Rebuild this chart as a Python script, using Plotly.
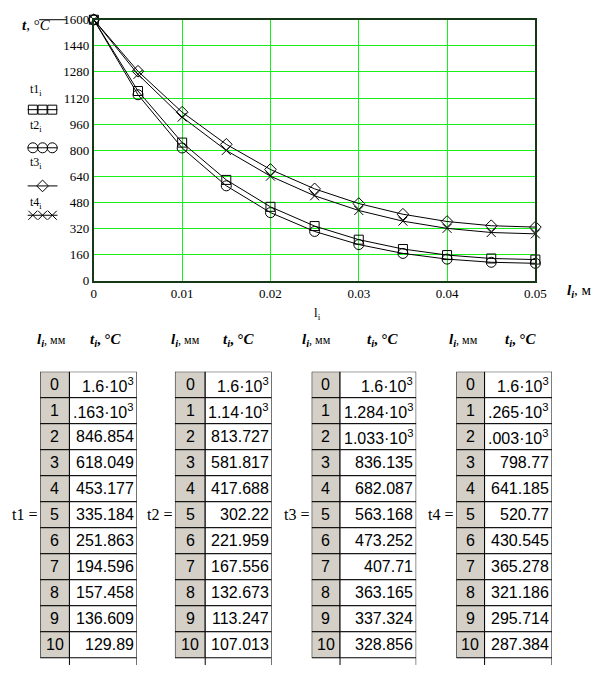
import plotly.graph_objects as go

# ---------------- data ----------------
l = [0, 0.005, 0.01, 0.015, 0.02, 0.025, 0.03, 0.035, 0.04, 0.045, 0.05]
idx = [0, 1, 2, 3, 4, 5, 6, 7, 8, 9, 10]
t1 = [1600, 1163, 846.854, 618.049, 453.177, 335.184, 251.863, 194.596, 157.458, 136.609, 129.89]
t2 = [1600, 1140, 813.727, 581.817, 417.688, 302.22, 221.959, 167.556, 132.673, 113.247, 107.013]
t3 = [1600, 1284, 1033, 836.135, 682.087, 563.168, 473.252, 407.71, 363.165, 337.324, 328.856]
t4 = [1600, 1265, 1003, 798.77, 641.185, 520.77, 430.545, 365.278, 321.186, 295.714, 287.384]
series_names = ["t1", "t2", "t3", "t4"]
x_ticks = [0, 0.01, 0.02, 0.03, 0.04, 0.05]
y_ticks = [0, 160, 320, 480, 640, 800, 960, 1120, 1280, 1440, 1600]

# ---------------- helpers ----------------
W, H = 605, 673
def px(x):
    return x / W
def py(y):
    return 1 - y / H

SERIF = "Liberation Serif"
SANS = "Liberation Sans"
GRID = "#19f019"
BORDER = "#173817"

symbols = ["square-open", "circle-open", "diamond-open", "x-thin-open"]
msizes = [9, 10, 9, 9]

fig = go.Figure()

# main curves
for name, vals, sym, ms in zip(series_names, [t1, t2, t3, t4], symbols, msizes):
    fig.add_trace(go.Scatter(
        x=l, y=vals, mode="lines+markers", name=name,
        line=dict(color="black", width=1),
        marker=dict(symbol=sym, size=ms, color="black",
                    line=dict(color="black", width=1)),
        xaxis="x", yaxis="y", showlegend=False, cliponaxis=False,
    ))

# legend samples (drawn in a small helper axis)
leg_y = [105, 144, 183, 213]
leg_marks = [[0.18, 0.5, 0.82], [0.18, 0.5, 0.82], [0.5], [0.18, 0.5, 0.82]]
for k, (sym, ms) in enumerate(zip(symbols, msizes)):
    yk = py(leg_y[k])
    fig.add_trace(go.Scatter(
        x=[0, 1], y=[yk, yk], mode="lines",
        line=dict(color="black", width=1),
        xaxis="x2", yaxis="y2", showlegend=False, hoverinfo="skip"))
    fig.add_trace(go.Scatter(
        x=leg_marks[k], y=[yk] * len(leg_marks[k]), mode="markers",
        marker=dict(symbol=sym, size=ms, color="black",
                    line=dict(color="black", width=1)),
        xaxis="x2", yaxis="y2", showlegend=False, hoverinfo="skip", cliponaxis=False))

# ---------------- tables (each drawn in its own axis: x = column units, y = row index) ----
def fmt(v, narrow):
    if v >= 1000:
        m = f"{v/1000:.4g}"
        if narrow and len(m) > 4:
            m = m[1:]
        return m + "·10<sup>3</sup>"
    return f"{v:g}"

# (left, divider, right) pixel edges of each table
tab_edges = [(38, 68, 137), (176, 207, 275), (316, 345, 423), (464, 493, 562)]
narrow_flags = [True, False, False, True]
TOP = 373
ROW_H = 26.6
GRAY = "#d4d0c8"
n_rows_visible = (H - TOP) / ROW_H

annotations = []
shapes = []
layout_axes = {}
for k, (vals, (xl, xm, xr), narrow) in enumerate(zip([t1, t2, t3, t4], tab_edges, narrow_flags)):
    ax_n = k + 3
    xa, ya = f"x{ax_n}", f"y{ax_n}"
    w0, w1 = xm - xl, xr - xm
    layout_axes[f"xaxis{ax_n}"] = dict(domain=[px(xl), px(xr)], range=[0, w0 + w1],
                                       visible=False, fixedrange=True, anchor=ya)
    layout_axes[f"yaxis{ax_n}"] = dict(domain=[0, py(TOP)], range=[n_rows_visible, 0],
                                       visible=False, fixedrange=True, anchor=xa)
    texts = [fmt(v, narrow) for v in vals]
    for r, (i, tx) in enumerate(zip(idx, texts)):
        shapes.append(dict(type="rect", xref=xa, yref=ya, x0=0, x1=w0, y0=r, y1=r + 1,
                           fillcolor=GRAY, line=dict(color="black", width=1), layer="below"))
        shapes.append(dict(type="rect", xref=xa, yref=ya, x0=w0, x1=w0 + w1, y0=r, y1=r + 1,
                           fillcolor="white", line=dict(color="black", width=1), layer="below"))
        annotations.append(dict(x=w0 / 2, y=r + 0.5, xref=xa, yref=ya, text=str(i),
                                showarrow=False, xanchor="center", yanchor="middle",
                                font=dict(family=SANS, size=16, color="black")))
        annotations.append(dict(x=w0 + w1 - 1, y=r + 0.5, xref=xa, yref=ya, text=tx,
                                showarrow=False, xanchor="right", yanchor="middle",
                                font=dict(family=SANS, size=16, color="black")))
    # stubs of the next (scrolled) row
    nr = len(idx)
    for xv in (w0, w0 + w1):
        shapes.append(dict(type="line", xref=xa, yref=ya, x0=xv, x1=xv, y0=nr, y1=n_rows_visible,
                           line=dict(color="black", width=1)))
    # "tN =" label
    annotations.append(dict(
        x=px(xl - 1), y=py(TOP + ROW_H * nr / 2), xref="paper", yref="paper",
        text=f"{series_names[k]} =", showarrow=False, xanchor="right", yanchor="middle",
        font=dict(family=SERIF, size=16, color="black")))

# column captions above tables
cap_l_x = [50, 187, 321, 471]
cap_t_x = [105, 242, 389, 530]
for xa_, xb_ in zip(cap_l_x, cap_t_x):
    annotations.append(dict(
        x=px(xa_), y=py(341), xref="paper", yref="paper", showarrow=False,
        xanchor="center", yanchor="middle",
        text="<b><i>l<sub>i</sub></i></b><span style='font-size:12px'>, мм</span>",
        font=dict(family=SERIF, size=15, color="black")))
    annotations.append(dict(
        x=px(xb_), y=py(341), xref="paper", yref="paper", showarrow=False,
        xanchor="center", yanchor="middle",
        text="<b><i>t<sub>i</sub></i>, °<i>C</i></b>",
        font=dict(family=SERIF, size=15, color="black")))

# legend labels
leg_lab_y = [85, 122, 160, 200]
for name, yy in zip(series_names, leg_lab_y):
    annotations.append(dict(
        x=px(34), y=py(yy), xref="paper", yref="paper", showarrow=False,
        text=f"{name}<sub>i</sub>", xanchor="center", yanchor="middle",
        font=dict(family=SERIF, size=12, color="black")))

# axis captions
annotations.append(dict(
    x=px(17), y=py(18), xref="paper", yref="paper", showarrow=False,
    xanchor="left", yanchor="middle",
    text="<b><i>t</i></b>, °<i>C</i>",
    font=dict(family=SERIF, size=15, color="black")))
shapes.append(dict(type="line", xref="paper", yref="paper",
                   x0=px(37), x1=px(65), y0=py(13), y1=py(13),
                   line=dict(color="black", width=1)))
annotations.append(dict(
    x=px(575), y=py(290), xref="paper", yref="paper", showarrow=False,
    xanchor="left", yanchor="middle",
    text="<b><i>l<sub>i</sub></i></b>, м",
    font=dict(family=SERIF, size=15, color="black")))
annotations.append(dict(
    x=px(322), y=py(313), xref="paper", yref="paper", showarrow=False,
    xanchor="center", yanchor="middle",
    text="l<sub>i</sub>",
    font=dict(family=SERIF, size=13, color="black")))

fig.update_layout(
    width=W, height=H,
    margin=dict(l=0, r=0, t=0, b=0),
    paper_bgcolor="white", plot_bgcolor="white",
    xaxis=dict(domain=[px(93), px(545)], range=[0, 0.05], tickvals=x_ticks,
               ticktext=[f"{v:g}" for v in x_ticks],
               showgrid=True, gridcolor=GRID, gridwidth=1, zeroline=False,
               showline=True, linecolor=BORDER, linewidth=2, mirror=True,
               ticks="", tickfont=dict(family=SERIF, size=13, color="black")),
    yaxis=dict(domain=[py(280), py(13)], range=[0, 1600], tickvals=y_ticks,
               showgrid=True, gridcolor=GRID, gridwidth=1, zeroline=False,
               showline=True, linecolor=BORDER, linewidth=2, mirror=True,
               ticks="", tickfont=dict(family=SERIF, size=13, color="black")),
    xaxis2=dict(domain=[px(25), px(56)], range=[0, 1], visible=False, fixedrange=True, anchor="y2"),
    yaxis2=dict(domain=[0, 1], range=[0, 1], visible=False, fixedrange=True, anchor="x2"),
    annotations=annotations, shapes=shapes,
    **layout_axes,
)

fig.write_html(
    "out.html",
    config={"displayModeBar": False},
    post_script="document.body.style.margin='0';document.body.style.padding='0';"
                "document.body.style.overflow='hidden';",
)
